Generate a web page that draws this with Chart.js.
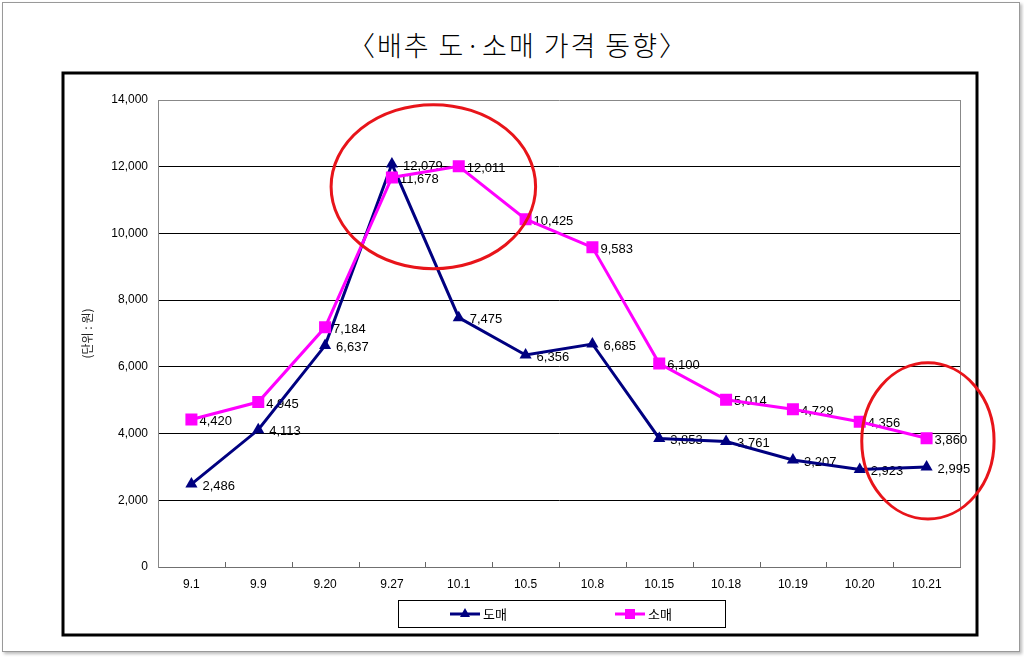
<!DOCTYPE html>
<html><head><meta charset="utf-8">
<script src="https://cdn.jsdelivr.net/npm/chart.js@4/dist/chart.umd.min.js"></script>
<style>
html,body{margin:0;padding:0;background:#fff;}
#wrap{position:relative;width:1024px;height:657px;overflow:hidden;}
#frame{position:absolute;left:2px;top:2px;width:1016px;height:648px;border:1px solid #999;box-shadow:2px 2px 3px #bbb;}
#title{position:absolute;left:6px;top:25px;width:1024px;text-align:center;font-family:"Noto Sans CJK KR",sans-serif;font-size:27px;font-weight:300;color:#000;letter-spacing:2px;}
canvas{position:absolute;left:0;top:0;}
</style></head>
<body><div id="wrap"><div id="frame"></div><div id="title">〈배추 도·소매 가격 동향〉</div><canvas id="c" width="1024" height="657"></canvas></div>
<script>
const categories = ["9.1","9.9","9.20","9.27","10.1","10.5","10.8","10.15","10.18","10.19","10.20","10.21"];
const wholesale = [2486,4113,6637,12079,7475,6356,6685,3853,3761,3207,2923,2995];
const retail = [4420,4945,7184,11678,12011,10425,9583,6100,5014,4729,4356,3860];
const seriesNames = ["도매","소매"];
const yTicks = [0,2000,4000,6000,8000,10000,12000,14000];
const yTitle = "(단위 : 원)";

const NAVY = "#000080", MAG = "#FF00FF";
const fmt = v => v.toLocaleString("en-US");

const deco = {
  id: "deco",
  beforeDraw(chart){
    const ctx = chart.ctx;
    ctx.save();
    ctx.strokeStyle = "#000"; ctx.lineWidth = 3;
    ctx.strokeRect(63, 73, 914, 562);
    ctx.restore();
  },
  beforeDatasetsDraw(chart){
    const ctx = chart.ctx, a = chart.chartArea;
    ctx.save();
    ctx.strokeStyle = "#888"; ctx.lineWidth = 1;
    ctx.beginPath(); ctx.moveTo(Math.round(a.right)+0.5, a.top); ctx.lineTo(Math.round(a.right)+0.5, a.bottom); ctx.stroke();
    ctx.strokeStyle = "#666";
    const w = (a.right - a.left) / categories.length;
    for (let i = 1; i < categories.length; i++) {
      const x = Math.round(a.left + i*w) + 0.5;
      ctx.beginPath(); ctx.moveTo(x, a.bottom); ctx.lineTo(x, a.bottom-5); ctx.stroke();
    }
    ctx.fillStyle = "#222"; ctx.font = "12px 'Noto Sans CJK KR', sans-serif";
    ctx.translate(87, (a.top+a.bottom)/2); ctx.rotate(-Math.PI/2);
    ctx.textAlign = "center"; ctx.textBaseline = "middle";
    ctx.fillText(yTitle, 0, 0);
    ctx.restore();
    ctx.save();
    ctx.fillStyle = "#000"; ctx.font = "13px 'Liberation Sans', Arial, sans-serif";
    ctx.textAlign = "left"; ctx.textBaseline = "middle";
    chart.data.datasets.forEach((ds, di) => {
      const meta = chart.getDatasetMeta(di);
      const dx = ds.label === seriesNames[0] ? 11 : 8;
      meta.data.forEach((pt, i) => {
        ctx.fillText(fmt(ds.data[i]), pt.x + dx, pt.y + 2);
      });
    });
    ctx.restore();
  },
  afterDatasetsDraw(chart){
    const ctx = chart.ctx, xs = chart.scales.x, ys = chart.scales.y;
    const cw = xs.getPixelForValue(1) - xs.getPixelForValue(0);
    const vu = ys.getPixelForValue(0) - ys.getPixelForValue(1000);
    ctx.save();
    ctx.strokeStyle = "#E8141A"; ctx.lineWidth = 3;
    ctx.beginPath();
    ctx.ellipse(xs.getPixelForValue(3.62), ys.getPixelForValue(11400), cw*1.53, vu*2.46, 0, 0, Math.PI*2);
    ctx.stroke();
    ctx.beginPath();
    ctx.ellipse(xs.getPixelForValue(11.02), ys.getPixelForValue(3780), cw*0.99, vu*2.34, 0, 0, Math.PI*2);
    ctx.stroke();
    ctx.restore();
  },
  afterDraw(chart){
    const ctx = chart.ctx;
    ctx.save();
    ctx.strokeStyle = "#000"; ctx.lineWidth = 1;
    ctx.strokeRect(398.5, 600.5, 327, 27);
    const items = [{x:450, c:NAVY, s:"triangle", t:seriesNames[0]},{x:615, c:MAG, s:"rect", t:seriesNames[1]}];
    ctx.font = "13px 'Noto Sans CJK KR', sans-serif"; ctx.textBaseline = "middle";
    items.forEach(it => {
      ctx.strokeStyle = it.c; ctx.lineWidth = 3;
      ctx.beginPath(); ctx.moveTo(it.x, 614); ctx.lineTo(it.x+30, 614); ctx.stroke();
      ctx.fillStyle = it.c;
      if (it.s === "triangle") {
        ctx.beginPath(); ctx.moveTo(it.x+15, 608); ctx.lineTo(it.x+20, 617); ctx.lineTo(it.x+10, 617); ctx.closePath(); ctx.fill();
      } else {
        ctx.fillRect(it.x+10, 609, 10, 10);
      }
      ctx.fillStyle = "#000";
      ctx.fillText(it.t, it.x+33, 614);
    });
    ctx.restore();
  }
};

new Chart(document.getElementById("c"), {
  type: "line",
  data: {
    labels: categories,
    datasets: [
      {label: seriesNames[0], data: wholesale, borderColor: NAVY, backgroundColor: NAVY, borderWidth: 3,
       pointStyle: "triangle", pointRadius: 7, pointBorderWidth: 0, tension: 0, order: 1},
      {label: seriesNames[1], data: retail, borderColor: MAG, backgroundColor: MAG, borderWidth: 3,
       pointStyle: "rect", pointRadius: 8.5, pointBorderWidth: 0, tension: 0, order: 0}
    ]
  },
  options: {
    responsive: false, animation: false, devicePixelRatio: 1,
    layout: {padding: {left: 62, top: 100, right: 64, bottom: 60}},
    plugins: {legend: {display: false}, tooltip: {enabled: false}, title: {display: false}},
    scales: {
      x: {
        offset: true,
        grid: {display: false, drawTicks: false},
        border: {display: true, color: "#707070", width: 1},
        ticks: {color: "#000", padding: 10, font: {family: "'Liberation Sans', Arial, sans-serif", size: 12}, maxRotation: 0, autoSkip: false},
        afterFit: s => { s.height = 30; }
      },
      y: {
        min: 0, max: 14000,
        afterBuildTicks: s => { s.ticks = yTicks.map(v => ({value: v})); },
        grid: {color: ctx => ctx.tick && ctx.tick.value === 14000 ? "#888" : "#000", lineWidth: 1, drawTicks: false},
        border: {display: true, color: "#888", width: 1},
        ticks: {color: "#000", padding: 10, font: {family: "'Liberation Sans', Arial, sans-serif", size: 12}, callback: v => fmt(v)},
        afterFit: s => { s.width = 96; }
      }
    }
  },
  plugins: [deco]
});
</script>
</body></html>
